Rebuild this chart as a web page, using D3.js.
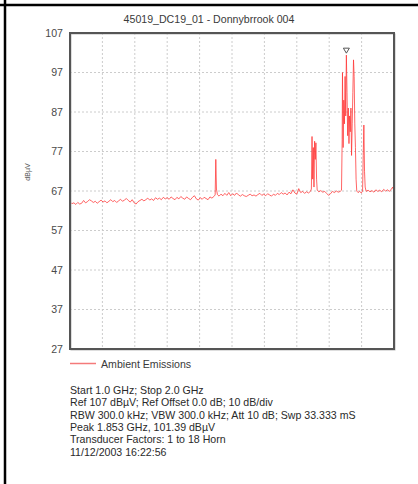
<!DOCTYPE html>
<html><head><meta charset="utf-8">
<script src="https://cdn.jsdelivr.net/npm/d3@7"></script>
<style>
html,body{margin:0;padding:0;background:#fff;}
svg{display:block;font-family:"Liberation Sans",Arial,sans-serif;}
</style></head>
<body>
<svg id="c" width="418" height="484"></svg>
<script>
const title = "45019_DC19_01 - Donnybrrook 004";
const yLabel = "dBµV";
const yTicks = [27, 37, 47, 57, 67, 77, 87, 97, 107];
const xGrid = [1.0, 1.1, 1.2, 1.3, 1.4, 1.5, 1.6, 1.7, 1.8, 1.9, 2.0];
const seriesName = "Ambient Emissions";
const peak = {freq: 1.853, level: 101.39};
const infoLines = [
  "Start 1.0 GHz; Stop 2.0 GHz",
  "Ref 107 dBµV; Ref Offset 0.0 dB; 10 dB/div",
  "RBW 300.0 kHz; VBW 300.0 kHz; Att 10 dB; Swp 33.333 mS",
  "Peak 1.853 GHz, 101.39 dBµV",
  "Transducer Factors: 1 to 18 Horn",
  "11/12/2003 16:22:56"
];
const freqGHz = [
1.000,1.006,1.012,1.018,1.024,1.030,1.036,1.042,1.048,1.054,1.060,1.066,1.072,1.078,1.084,1.090,1.096,1.102,1.108,1.114,
1.120,1.126,1.132,1.138,1.144,1.150,1.156,1.162,1.168,1.174,1.180,1.186,1.192,1.198,1.204,1.210,1.216,1.222,1.228,1.234,
1.240,1.246,1.252,1.258,1.264,1.270,1.276,1.282,1.288,1.294,1.300,1.306,1.312,1.318,1.324,1.330,1.336,1.342,1.348,1.354,
1.360,1.366,1.372,1.378,1.384,1.390,1.396,1.402,1.408,1.414,1.420,1.426,1.432,1.438,1.444,1.448,1.450,1.452,1.455,1.460,
1.466,1.472,1.478,1.484,1.490,1.496,1.502,1.508,1.514,1.520,1.526,1.532,1.538,1.544,1.550,1.556,1.562,1.568,1.574,1.580,
1.586,1.592,1.598,1.604,1.610,1.616,1.622,1.628,1.634,1.640,1.646,1.652,1.658,1.664,1.670,1.676,1.682,1.688,1.694,1.700,
1.706,1.712,1.718,1.724,1.730,1.736,1.742,1.745,1.747,1.749,1.751,1.753,1.755,1.757,1.759,1.761,1.763,1.768,1.774,1.780,
1.786,1.792,1.798,1.804,1.810,1.816,1.822,1.828,1.834,1.838,1.840,1.841,1.843,1.845,1.847,1.849,1.851,1.853,1.855,1.857,
1.859,1.861,1.863,1.865,1.867,1.869,1.871,1.873,1.875,1.877,1.879,1.881,1.883,1.885,1.889,1.894,1.899,1.903,1.905,1.907,
1.909,1.911,1.914,1.920,1.926,1.932,1.938,1.944,1.950,1.956,1.962,1.968,1.974,1.980,1.986,1.992,1.996,2.000
];
const levelDbuV = [
64.2,63.8,64.0,63.6,64.1,63.7,63.9,64.6,64.0,64.3,64.8,64.5,64.1,64.4,63.9,64.3,64.7,64.2,64.5,64.0,
64.4,64.8,64.3,64.6,64.1,64.5,64.9,64.4,64.7,65.1,64.6,64.2,64.8,64.0,63.7,64.3,64.6,64.9,64.5,64.8,
65.2,64.7,65.0,64.6,65.3,64.9,65.2,64.8,65.4,65.0,65.3,64.9,65.5,65.1,64.8,65.4,65.0,65.6,65.2,64.9,
65.5,65.1,64.8,65.4,65.8,65.0,64.7,65.3,64.9,65.4,65.1,64.8,65.5,65.2,65.6,66.0,75.0,67.5,66.1,65.7,
66.2,65.8,66.4,65.9,66.6,65.8,66.3,65.9,66.5,66.0,65.7,66.1,65.8,65.6,65.9,66.2,65.8,66.0,65.7,66.1,
66.4,65.9,66.2,65.8,66.3,66.0,65.7,66.2,65.9,66.4,66.1,66.6,66.2,66.5,66.0,66.7,66.3,67.3,66.5,66.2,
67.6,66.6,66.9,66.4,66.8,66.5,66.9,67.5,80.8,70.0,78.0,68.0,79.6,75.0,79.2,70.0,67.2,66.8,67.1,66.7,
66.9,66.4,65.9,66.3,66.9,66.6,67.0,66.7,66.9,67.2,80.0,97.0,78.0,90.0,84.0,96.0,86.0,101.4,92.0,81.0,
88.0,79.0,86.0,82.0,88.0,76.0,84.0,92.0,100.2,96.0,84.0,78.0,70.0,67.0,66.6,66.9,66.5,67.0,76.0,83.7,
72.0,68.0,66.9,67.2,66.8,67.1,66.7,67.3,66.9,67.2,66.8,67.4,67.0,67.3,66.9,67.5,68.0,66.9
];

const svg = d3.select("#c");
const W = 418, H = 484;
const m = {left: 70, right: 394, top: 33, bottom: 349};
const FS = 10.6;

// outer page borders
svg.append("line").attr("x1",0).attr("x2",W).attr("y1",5).attr("y2",5).attr("stroke","#000").attr("stroke-width",2.5);
svg.append("line").attr("x1",5).attr("x2",5).attr("y1",0).attr("y2",H).attr("stroke","#000").attr("stroke-width",2.5);

const x = d3.scaleLinear().domain([1.0, 2.0]).range([m.left, m.right]);
const y = d3.scaleLinear().domain([27, 107]).range([m.bottom, m.top]);

// title
svg.append("text").attr("x", 209).attr("y", 23).attr("text-anchor","middle")
  .attr("font-size", FS).attr("fill","#3a3a3a").text(title);

// grid
const g = svg.append("g");
g.selectAll(".hg").data(yTicks.slice(1,-1)).join("line")
  .attr("x1", m.left).attr("x2", m.right).attr("y1", d=>y(d)).attr("y2", d=>y(d))
  .attr("stroke","#cccccc").attr("stroke-width",1).attr("stroke-dasharray","2,2");
g.selectAll(".vg").data(xGrid.slice(1,-1)).join("line")
  .attr("x1", d=>x(d)).attr("x2", d=>x(d)).attr("y1", m.top).attr("y2", m.bottom)
  .attr("stroke","#cccccc").attr("stroke-width",1).attr("stroke-dasharray","2,2");

// y axis tick labels
const yAxis = d3.axisLeft(y).tickValues(yTicks).tickSize(0).tickPadding(7).tickFormat(d3.format("d"));
const ya = svg.append("g").attr("transform",`translate(${m.left},0)`).call(yAxis);
ya.select(".domain").remove();
ya.selectAll("text").attr("font-size",FS).attr("fill","#4a4a4a").attr("font-family","Liberation Sans, Arial, sans-serif");

// y label
svg.append("text").attr("transform","translate(30,172) rotate(-90)").attr("text-anchor","middle")
  .attr("font-size",7).attr("fill","#555").text(yLabel);

// trace
svg.append("clipPath").attr("id","pc").append("rect")
  .attr("x", m.left).attr("y", m.top).attr("width", m.right-m.left).attr("height", m.bottom-m.top);
const data = freqGHz.map((f,i)=>[f, levelDbuV[i]]);
svg.append("path").datum(data).attr("clip-path","url(#pc)")
  .attr("fill","none").attr("stroke","#ff3535").attr("stroke-width",0.9).attr("stroke-opacity",0.85)
  .attr("stroke-linejoin","round")
  .attr("d", d3.line().x(d=>x(d[0])).y(d=>y(d[1])));

// frame
svg.append("rect").attr("x", m.left+1).attr("y", m.top+1).attr("width", m.right-m.left).attr("height", m.bottom-m.top)
  .attr("fill","none").attr("stroke","#bbb").attr("stroke-width",1);
svg.append("rect").attr("x", m.left).attr("y", m.top).attr("width", m.right-m.left).attr("height", m.bottom-m.top)
  .attr("fill","none").attr("stroke","#555").attr("stroke-width",2);

// peak marker (inverted triangle)
const px = x(peak.freq), py = y(peak.level);
svg.append("path").attr("d", `M${px-3},${py-7} L${px+3},${py-7} L${px},${py-2} Z`)
  .attr("fill","#fff").attr("stroke","#555").attr("stroke-width",1);

// legend
svg.append("line").attr("x1", 70).attr("x2", 96).attr("y1", 363.5).attr("y2", 363.5)
  .attr("stroke","#f47a7a").attr("stroke-width",1.5);
svg.append("text").attr("x", 101).attr("y", 367.5).attr("font-size",FS).attr("fill","#3a3a3a").text(seriesName);

// info lines
svg.append("g").selectAll("text").data(infoLines).join("text")
  .attr("x", 70).attr("y", (d,i)=>394 + i*12.3)
  .attr("font-size",FS).attr("fill","#2a2a2a").text(d=>d);
</script>
</body></html>
